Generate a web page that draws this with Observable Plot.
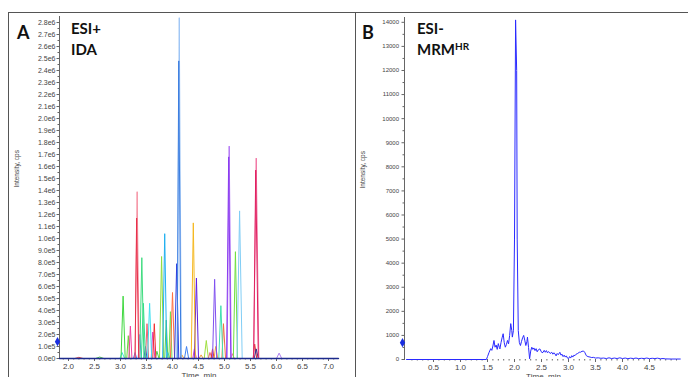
<!DOCTYPE html>
<html><head><meta charset="utf-8">
<script src="https://cdn.jsdelivr.net/npm/d3@7"></script>
<script src="https://cdn.jsdelivr.net/npm/@observablehq/plot@0.6"></script>
<style>
html,body{margin:0;padding:0;width:688px;height:377px;overflow:hidden;background:#fff;}
#wrap{position:relative;width:688px;height:377px;overflow:hidden;background:#fff;}
.panel{position:absolute;top:13px;}
.frame{position:absolute;border-color:#555;border-style:solid;}
.lbl{position:absolute;font-family:Lato,"Open Sans",sans-serif;font-weight:700;line-height:1;color:#111;white-space:nowrap;}
.lbl sup{font-size:10px;vertical-align:top;position:relative;top:-1px;}
</style></head><body>
<div id="wrap">
  <div class="frame" style="left:8px;top:12px;width:346px;height:400px;border-width:1.5px 0 0 1.5px"></div>
  <div class="frame" style="left:354.5px;top:12px;width:340px;height:400px;border-width:1.5px 0 0 1.5px"></div>
  <div class="panel" id="pa" style="left:9px"></div>
  <div class="panel" id="pb" style="left:355px"></div>
  <div class="lbl" style="left:17px;top:23px;font-size:18px">A</div>
  <div class="lbl" style="left:71px;top:20.5px;font-size:15px">ESI+</div>
  <div class="lbl" style="left:71px;top:41.5px;font-size:15px">IDA</div>
  <div class="lbl" style="left:362px;top:23px;font-size:18px">B</div>
  <div class="lbl" style="left:417px;top:21px;font-size:15px">ESI-</div>
  <div class="lbl" style="left:417px;top:42px;font-size:15px">MRM<sup>HR</sup></div>
</div>
<script>
// ---------- Panel A data (ESI+ IDA, overlaid extracted peaks) ----------
const peakApex   = [2.20, 2.60, 3.03, 3.28, 3.37, 3.48, 3.62, 3.70, 3.88, 3.91, 4.18, 4.27, 4.42, 4.55, 4.65, 4.72, 4.77, 4.83, 5.15, 5.58, 5.61, 6.05,
                    3.15, 3.19, 3.51, 3.65, 4.98, 3.96, 4.93, 3.44, 3.56, 3.05, 4.00, 4.81, 4.46, 4.08, 3.41, 3.79, 5.21, 3.85, 4.40, 5.29, 3.32, 3.31, 5.61, 5.60, 5.09, 5.08, 4.13, 4.12];
const peakStart  = [2.12, 2.52, 2.99, 3.25, 3.34, 3.45, 3.59, 3.67, 3.85, 3.88, 4.14, 4.23, 4.39, 4.51, 4.61, 4.69, 4.74, 4.80, 5.12, 5.55, 5.57, 6.00,
                    3.12, 3.16, 3.48, 3.62, 4.95, 3.93, 4.89, 3.40, 3.52, 3.01, 3.96, 4.77, 4.42, 4.04, 3.37, 3.75, 5.17, 3.81, 4.36, 5.24, 3.28, 3.28, 5.56, 5.56, 5.05, 5.04, 4.09, 4.09];
const peakEnd    = [2.28, 2.68, 3.08, 3.31, 3.40, 3.51, 3.66, 3.74, 3.91, 3.95, 4.22, 4.31, 4.46, 4.59, 4.69, 4.76, 4.80, 4.87, 5.19, 5.62, 5.65, 6.10,
                    3.18, 3.22, 3.54, 3.68, 5.02, 3.99, 4.97, 3.48, 3.60, 3.09, 4.04, 4.85, 4.50, 4.12, 3.45, 3.83, 5.25, 3.89, 4.44, 5.34, 3.36, 3.35, 5.66, 5.65, 5.13, 5.12, 4.17, 4.16];
const peakHeight = [1.0e4, 1.2e4, 5e4, 5e4, 2.0e5, 1.0e5, 2.2e5, 6e4, 3.2e5, 5e4, 3e4, 1.0e5, 8e4, 3e4, 1.5e5, 5e4, 8e4, 1.0e5, 4e4, 1.2e5, 8e4, 4.5e4,
                    1.9e5, 2.7e5, 2.9e5, 2.9e5, 2.9e5, 3.9e5, 4.4e5, 4.6e5, 4.6e5, 5.2e5, 5.5e5, 6.6e5, 6.7e5, 7.9e5, 8.4e5, 8.5e5, 8.9e5, 1.04e6, 1.13e6, 1.23e6, 1.39e6, 1.17e6, 1.67e6, 1.57e6, 1.77e6, 1.68e6, 2.84e6, 2.48e6];
const peakColor  = ["#e05050","#50c050","#40e0e0","#4060f0","#5080f0","#3050d0","#e040c0","#50d050","#50d050","#30c0e0","#f0a030","#4080f0","#d040d0","#f0a040","#a0e040","#f06080","#e03030","#f0a040","#f060a0","#e03030","#303090","#b080f0",
                    "#70d040","#f040a0","#f06070","#f03030","#f07040","#70e050","#40e0b0","#30e090","#40e0f0","#40d840","#ff7040","#8050f0","#6020e0","#3040e0","#40dc80","#90dc40","#70e040","#20b0f0","#f5b820","#80cdf5","#f58fa0","#e8304a","#f070a0","#e02060","#b070f5","#8a3cf0","#9cc4f5","#3b7de0"];
const baselineA  = [1.827, 7.19];
const markerA    = [1.4e5];
const yTicksA = [0,1e5,2e5,3e5,4e5,5e5,6e5,7e5,8e5,9e5,1e6,1.1e6,1.2e6,1.3e6,1.4e6,1.5e6,1.6e6,1.7e6,1.8e6,1.9e6,2e6,2.1e6,2.2e6,2.3e6,2.4e6,2.5e6,2.6e6,2.7e6,2.8e6];
const xTicksA = [2.0,2.5,3.0,3.5,4.0,4.5,5.0,5.5,6.0,6.5,7.0];

// ---------- Panel B data (ESI- MRMHR) ----------
const timeB = [0,1.48,1.50,1.53,1.56,1.58,1.60,1.62,1.64,1.66,1.68,1.70,1.72,1.73,1.75,1.77,1.79,1.81,1.83,1.85,1.87,1.89,1.91,1.93,1.95,1.96,1.98,2.00,2.02,2.04,2.05,2.07,2.09,2.11,2.13,2.15,2.17,2.19,2.21,2.23,2.24,2.26,2.28,2.30,2.32,2.34,2.36,2.38,2.40,2.42,2.44,2.47,2.49,2.51,2.53,2.55,2.57,2.59,2.61,2.63,2.66,2.69,2.71,2.73,2.75,2.77,2.79,2.81,2.84,2.86,2.88,2.90,2.92,2.94,2.96,2.98,3.00,3.02,3.04,3.06,3.08,3.10,3.12,3.14,3.17,3.20,3.22,3.25,3.28,3.30,3.33,3.36,3.40,3.43,3.46,3.50,3.55,3.60,3.65,3.70,3.75,3.80,3.85,3.90,3.95,4.00,4.05,4.10,4.15,4.20,4.25,4.30,4.35,4.40,4.45,4.50,4.55,4.60,4.65,4.70,4.75,4.80,4.90,5.00,5.07];
const intensityB = [0,0,120,300,450,380,560,790,510,600,420,660,500,440,700,900,1070,700,510,620,790,650,1000,1490,1200,930,1200,5000,14100,12000,5000,1200,700,580,750,900,1000,800,580,750,930,500,30,350,510,420,480,370,450,320,400,440,350,280,300,380,300,370,280,330,250,300,220,280,230,150,250,200,300,180,220,120,180,100,150,60,30,120,60,160,100,180,160,220,250,300,300,340,350,300,160,120,100,80,90,60,70,50,60,40,70,40,60,40,70,40,60,35,55,40,60,35,50,40,60,35,50,40,55,30,40,25,20,20,20];
const markerB = [700];
const yTicksB = [0,1000,2000,3000,4000,5000,6000,7000,8000,9000,10000,11000,12000,13000,14000];
const xTicksB = [0.5,1.0,1.5,2.0,2.5,3.0,3.5,4.0,4.5];

// ---------- helpers ----------
const fmtE = d => {
  if (d === 0) return "0.0e0";
  const e = Math.floor(Math.log10(d) + 1e-9);
  return (d / Math.pow(10, e)).toFixed(1) + "e" + e;
};
const FONT = "'Liberation Sans', Arial, sans-serif";
const AX = "#666";
const TXT = "#444";

const peakRows = [];
peakApex.forEach((t, i) => {
  peakRows.push({t: peakStart[i], v: 0, id: i, c: peakColor[i]});
  peakRows.push({t: t, v: peakHeight[i], id: i, c: peakColor[i]});
  peakRows.push({t: peakEnd[i], v: 0, id: i, c: peakColor[i]});
});
const rowsB = timeB.map((t, i) => ({t, v: intensityB[i]}));

const xDomA = [1.827, 7.192];
const xDomB = [-0.037, 5.111];

const chartA = Plot.plot({
  width: 346, height: 372,
  marginLeft: 50, marginRight: 17, marginTop: 3, marginBottom: 27,
  style: {background: "transparent", fontFamily: FONT, color: TXT, overflow: "visible"},
  x: {domain: xDomA},
  y: {domain: [0, 2.85e6]},
  color: {type: "identity"},
  marks: [
    Plot.frame({anchor: "left", stroke: AX}),
    Plot.axisY({ticks: yTicksA, tickFormat: fmtE, tickSize: 2.5, tickPadding: 1.5, fontSize: 7, label: null, stroke: AX}),
    Plot.axisY({ticks: d3.range(0.5e5, 2.85e6, 1e5), tickFormat: () => "", tickSize: 1.5, label: null, stroke: AX}),
    Plot.axisX({ticks: xTicksA, tickFormat: d3.format(".1f"), tickSize: 3, tickPadding: 2, fontSize: 8, label: null, stroke: AX}),
    Plot.axisX({ticks: d3.range(1.9, 7.15, 0.1), tickFormat: () => "", tickSize: 1.5, label: null, stroke: AX}),
    Plot.line(peakRows, {x: "t", y: "v", z: "id", stroke: "c", strokeWidth: 1}),
    Plot.line(baselineA.map(t => ({t, v: 0})), {x: "t", y: "v", stroke: "#1c2a8c", strokeWidth: 1.6}),
    Plot.dot(markerA, {x: () => xDomA[0], y: d => d, symbol: "diamond", r: 2.8, fill: "#1a2ee0", dx: -2}),
    Plot.text(["Intensity, cps"], {text: d => d, frameAnchor: "left", dx: -43, rotate: -90, fontSize: 6.5, fill: TXT}),
    Plot.text(["Time, min"], {text: d => d, frameAnchor: "bottom", dy: 19, fontSize: 8, fill: TXT})
  ]
});
document.getElementById("pa").appendChild(chartA);

const chartB = Plot.plot({
  width: 333, height: 372,
  marginLeft: 49, marginRight: 6, marginTop: 4, marginBottom: 26,
  style: {background: "transparent", fontFamily: FONT, color: TXT, overflow: "visible"},
  x: {domain: xDomB},
  y: {domain: [0, 14200]},
  marks: [
    Plot.frame({anchor: "left", stroke: AX}),
    Plot.axisY({ticks: yTicksB, tickFormat: d => String(d), tickSize: 2.5, tickPadding: 3, fontSize: 6, label: null, stroke: AX}),
    Plot.axisY({ticks: d3.range(500, 14200, 1000), tickFormat: () => "", tickSize: 1.5, label: null, stroke: AX}),
    Plot.axisX({ticks: xTicksB, tickFormat: d3.format(".1f"), tickSize: 3, tickPadding: 2, fontSize: 8, label: null, stroke: AX}),
    Plot.axisX({ticks: d3.range(0.1, 5.05, 0.1), tickFormat: () => "", tickSize: 1.5, label: null, stroke: AX}),
    Plot.line(rowsB, {x: "t", y: "v", stroke: "#2a2aff", strokeWidth: 1}),
    Plot.dot(markerB, {x: () => xDomB[0], y: d => d, symbol: "diamond", r: 2.8, fill: "#1a2ee0", dx: -2}),
    Plot.text(["Intensity, cps"], {text: d => d, frameAnchor: "left", dx: -42, rotate: -90, fontSize: 6.5, fill: TXT}),
    Plot.text(["Time, min"], {text: d => d, frameAnchor: "bottom", dy: 19, fontSize: 8, fill: TXT})
  ]
});
document.getElementById("pb").appendChild(chartB);
</script>
</body></html>
